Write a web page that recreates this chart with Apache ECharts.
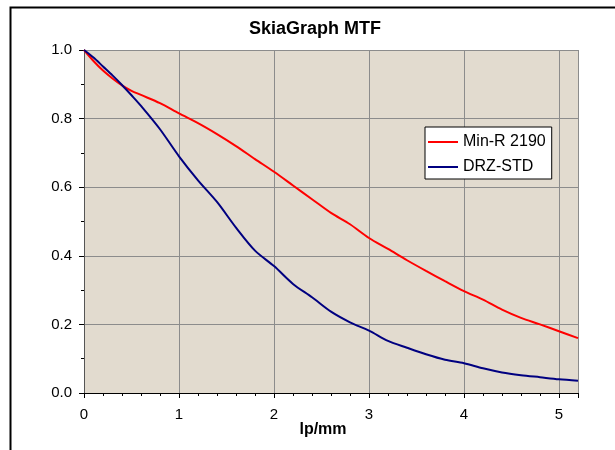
<!DOCTYPE html>
<html>
<head>
<meta charset="utf-8">
<script src="https://cdn.jsdelivr.net/npm/echarts@6/dist/echarts.min.js"></script>
<style>
html,body{margin:0;padding:0;background:#fff;}
#c{width:615px;height:450px;}
</style>
</head>
<body>
<div id="c"></div>
<script>
const lpmm = [0, 0.1, 0.2, 0.3, 0.4, 0.5, 0.6, 0.8, 1.0, 1.2, 1.4, 1.6, 1.8, 2.0, 2.2, 2.4, 2.6, 2.8, 3.0, 3.2, 3.4, 3.6, 3.8, 4.0, 4.2, 4.4, 4.6, 4.8, 5.0, 5.2];
const minR2190 = [1.0, 0.968, 0.94, 0.917, 0.897, 0.881, 0.869, 0.845, 0.815, 0.787, 0.755, 0.720, 0.682, 0.645, 0.605, 0.565, 0.525, 0.492, 0.452, 0.420, 0.387, 0.356, 0.326, 0.297, 0.272, 0.243, 0.219, 0.200, 0.180, 0.160];
const drzStd = [1.0, 0.978, 0.952, 0.926, 0.898, 0.868, 0.837, 0.769, 0.690, 0.620, 0.557, 0.482, 0.415, 0.370, 0.318, 0.279, 0.237, 0.206, 0.182, 0.152, 0.132, 0.113, 0.097, 0.087, 0.072, 0.060, 0.052, 0.046, 0.040, 0.036];
const seriesNames = ['Min-R 2190', 'DRZ-STD'];
const chartTitle = 'SkiaGraph MTF';
const xName = 'lp/mm';

const FONT = '"Liberation Sans", Arial, sans-serif';
const chart = echarts.init(document.getElementById('c'), null, {renderer: 'canvas'});
const pairs = (xs, ys) => xs.map((x, i) => [x, ys[i]]);

chart.setOption({
  animation: false,
  backgroundColor: '#ffffff',
  graphic: [
    {type: 'rect', left: 8, top: 5, shape: {x: 0, y: 0, width: 700, height: 500},
     style: {fill: 'none', stroke: '#000', lineWidth: 2}, z: 0, silent: true},
    {type: 'text', x: 315, y: 29, style: {text: chartTitle, font: 'bold 18px ' + FONT, fill: '#000', align: 'center', verticalAlign: 'middle'}, z: 10},
    {type: 'text', x: 323, y: 430, style: {text: xName, font: 'bold 16px ' + FONT, fill: '#000', align: 'center', verticalAlign: 'middle'}, z: 10}
  ],
  grid: {
    left: 84, top: 50, width: 494, height: 343,
    show: true, backgroundColor: '#e2dbcf', borderWidth: 0
  },
  legend: {
    orient: 'vertical',
    left: 425, top: 127,
    padding: [7, 6, 4, 3],
    itemGap: 9,
    itemWidth: 30, itemHeight: 2,
    icon: 'rect',
    backgroundColor: '#ffffff',
    borderColor: '#000', borderWidth: 1,
    textStyle: {fontFamily: FONT, fontSize: 16, color: '#000', lineHeight: 16},
    data: seriesNames
  },
  xAxis: {
    type: 'value', min: 0, max: 5.2, interval: 1,
    axisLine: {show: true, lineStyle: {color: '#000', width: 1}},
    axisTick: {show: true, length: 5, lineStyle: {color: '#000'}},
    minorTick: {show: true, splitNumber: 5, length: 3, lineStyle: {color: '#000'}},
    splitLine: {show: true, lineStyle: {color: '#8c8c8c', width: 1}},
    axisLabel: {fontFamily: FONT, fontSize: 15, color: '#000', margin: 14, showMaxLabel: false,
      formatter: v => (Math.abs(v - Math.round(v)) < 1e-9 ? String(Math.round(v)) : '')}
  },
  yAxis: {
    type: 'value', min: 0, max: 1, interval: 0.2,
    axisLine: {show: true, lineStyle: {color: '#555', width: 1}},
    axisTick: {show: true, length: 5, lineStyle: {color: '#000'}},
    minorTick: {show: true, splitNumber: 2, length: 3, lineStyle: {color: '#000'}},
    splitLine: {show: true, lineStyle: {color: '#8c8c8c', width: 1}},
    axisLabel: {fontFamily: FONT, fontSize: 15, color: '#000', margin: 12,
      formatter: v => v.toFixed(1)}
  },
  series: [
    {name: seriesNames[0], type: 'line', data: pairs(lpmm, minR2190), symbol: 'none',
     smooth: 0.3, lineStyle: {color: '#ff0000', width: 2}, itemStyle: {color: '#ff0000'}},
    {name: seriesNames[1], type: 'line', data: pairs(lpmm, drzStd), symbol: 'none',
     smooth: 0.3, lineStyle: {color: '#000080', width: 2}, itemStyle: {color: '#000080'}}
  ]
});
</script>
</body>
</html>
